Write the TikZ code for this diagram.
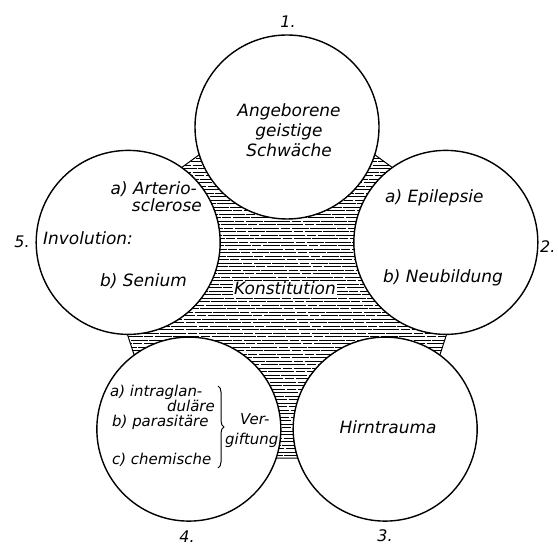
\documentclass[tikz,border=0pt]{standalone}
\usepackage{fontspec}
\setmainfont{DejaVu Sans}
\usetikzlibrary{calc,decorations.pathreplacing}

\tikzset{%
  x=1bp, y=1bp,
  ring/.style={circle,draw,line width=1.4bp,fill=white,minimum size=184bp,
    inner sep=0pt},
  say/.style={font=\fontsize{17}{20}\selectfont\itshape,inner sep=0pt},
  small say/.style={font=\fontsize{15}{18}\selectfont\itshape,inner sep=0pt},
  numlabel/.style={font=\fontsize{16}{18}\selectfont\itshape,inner sep=0pt},
  hatch/.style={line width=0.8bp},
}

\begin{document}
\begin{tikzpicture}
\useasboundingbox (0,0) rectangle (558,546);

%% some definitions

\def\Rc{167}  % distance of the circle centres
\def\Rp{203}  % radius of the hatched pentagon

\coordinate (O) at (287,252);

%% hatched pentagon (Konstitution)

\path (O) ++(90:\Rp) coordinate (p1) (O) ++(18:\Rp) coordinate (p2)
      (O) ++(-54:\Rp) coordinate (p3) (O) ++(-126:\Rp) coordinate (p4)
      (O) ++(162:\Rp) coordinate (p5);
\begin{scope}
  \clip (p1) -- (p2) -- (p3) -- (p4) -- (p5) -- cycle;
  \foreach \i in {0,...,100}{
    \pgfmathsetmacro\yy{80+3.5*\i}
    \pgfmathsetmacro\ph{mod(\i*13,37)}
    \draw[hatch,dash pattern=on 26bp off 1.5bp on 9bp off 2bp on 17bp off 1bp,
      dash phase=\ph bp] (60,\yy) -- (520,\yy);
  }
\end{scope}
\draw[line width=1bp] (p1) -- (p2) -- (p3) -- (p4) -- (p5) -- cycle;

\node[say,fill=white,inner sep=1bp,anchor=base] (konst) at (285,251)
  {Konstitution};

%% the five circles

\node[ring] (c1) at ($(O)+(90:\Rc)$) {};
\node[ring] (c2) at ($(O)+(18:\Rc)$) {};
\node[ring] (c3) at ($(O)+(-54:\Rc)$) {};
\node[ring] (c4) at ($(O)+(-126:\Rc)$) {};
\node[ring] (c5) at ($(O)+(162:\Rc)$) {};

%% numbers

\node[numlabel] (n1) at (288,524) {1.};
\node[numlabel,anchor=base west] (n2) at (540,293) {2.};
\node[numlabel] (n3) at (385,10) {3.};
\node[numlabel] (n4) at (187,9) {4.};
\node[numlabel] (n5) at (22,304) {5.};

%% 1. circle

\node[say,align=center] (angeb) at (289,416)
  {Angeborene\\geistige\\Schwäche};

%% 2. circle

\node[say,anchor=base west] (epi) at (385,343) {a) Epilepsie};
\node[say,anchor=base west] (neub) at (383,263) {b) Neubildung};

%% 3. circle

\node[say] (trauma) at (388,119) {Hirntrauma};

%% 4. circle

\node[small say,anchor=base west] (intra) at (110,149) {a) intraglan-};
\node[small say,anchor=base east] (dul) at (215,134) {duläre};
\node[small say,anchor=base west] (para) at (112,119) {b) parasitäre};
\node[small say,anchor=base west] (chem) at (112,81) {c) chemische};
\coordinate (bt) at (218,160);
\coordinate (bb) at (218,78);
\draw[line width=1bp,decorate,decoration={brace,amplitude=6bp}] (bt) -- (bb);
\node[small say,anchor=base west] (ver) at (240,121) {Ver-};
\node[small say,anchor=base west] (gift) at (225,101) {giftung};

%% 5. circle

\node[say,anchor=base east] (arter) at (197,351) {a) Arterio-};
\node[say,anchor=base east] (scler) at (202,334) {sclerose};
\node[say,anchor=base west] (invol) at (43,301) {Involution:};
\node[say,anchor=base west] (sen) at (100,259) {b) Senium};
\end{tikzpicture}
\end{document}
